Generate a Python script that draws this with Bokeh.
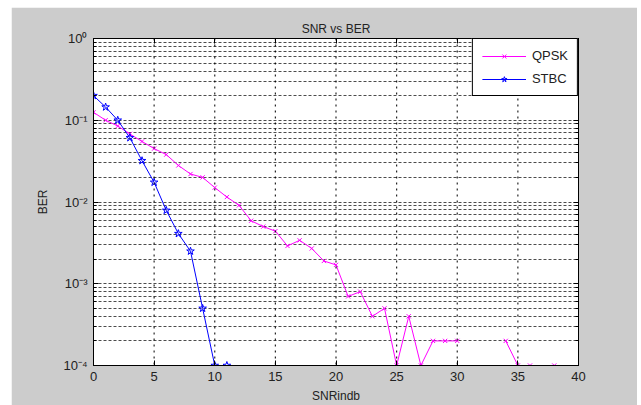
import math
from bokeh.plotting import figure
from bokeh.models import (FixedTicker, CustomJSTickFormatter, LinearAxis, LogAxis,
                          Range1d, Legend, LegendItem, Grid, Span)
from bokeh.embed import file_html
from bokeh.resources import INLINE

nan = float("nan")

snr_db = list(range(0, 41))
ber_qpsk = [0.125, 0.10, 0.085, 0.068, 0.055, 0.045, 0.038, 0.028, 0.022, 0.020,
            0.015, 0.0115, 0.0091, 0.0059, 0.0050, 0.0044, 0.0029, 0.0034, 0.0027, 0.0019,
            0.0017, 0.0007, 0.0008, 0.0004, 0.0005, 0.0001, 0.0004, 0.0001, 0.0002, 0.0002,
            0.0002, nan, nan, nan, 0.0002, 0.0001, 0.0001, nan, 0.0001, nan, nan]
ber_stbc = [0.20, 0.145, 0.10, 0.061, 0.032, 0.0174, 0.0079, 0.0041, 0.0025, 0.0005,
            0.0001, 0.0001] + [nan] * 29

x_ticks = [0, 5, 10, 15, 20, 25, 30, 35, 40]
y_decades = [-4, -3, -2, -1, 0]

FONT = "Liberation Sans"
GREY = "#cccccc"

p = figure(width=626, height=398, y_axis_type="log",
           x_range=Range1d(0, 40), y_range=Range1d(1e-4, 1),
           output_backend="svg", toolbar_location=None,
           title="SNR vs BER",
           min_border_left=82, min_border_right=59,
           min_border_top=31, min_border_bottom=40)
p.margin = (7, 4, 0, 11)
p.background_fill_color = "white"
p.border_fill_color = GREY
p.outline_line_color = "black"
p.outline_line_width = 1

p.title.align = "center"
p.title.text_font = FONT
p.title.text_font_size = "12px"
p.title.text_font_style = "normal"
p.title.text_color = "#222222"
p.title.standoff = 6

major_y = [10.0 ** e for e in y_decades]
minor_y = [m * 10.0 ** e for e in y_decades[:-1] for m in range(2, 10)]
yticker = FixedTicker(ticks=major_y, minor_ticks=minor_y)
xticker = FixedTicker(ticks=x_ticks)

sup_fmt = CustomJSTickFormatter(code="""
const sup = {"-":"\u207b","0":"\u2070","1":"\u00b9","2":"\u00b2","3":"\u00b3","4":"\u2074","5":"\u2075"};
const e = Math.round(Math.log10(tick));
return "10" + String(e).split("").map(c => sup[c]).join("");
""")
blank_fmt = CustomJSTickFormatter(code='return "";')

for ax in p.xaxis:
    ax.ticker = xticker
    ax.axis_label = "SNRindb"
for ax in p.yaxis:
    ax.ticker = yticker
    ax.formatter = sup_fmt
    ax.axis_label = "BER"
    ax.axis_label_standoff = 10

for ax in list(p.xaxis) + list(p.yaxis):
    ax.major_label_text_font = FONT
    ax.major_label_text_font_size = "13px"
    ax.major_label_text_color = "#222222"
    ax.axis_label_text_font = FONT
    ax.axis_label_text_font_size = "12px"
    ax.axis_label_text_font_style = "normal"
    ax.axis_label_text_color = "#222222"
    ax.axis_line_color = "black"
    ax.major_tick_in = 5
    ax.major_tick_out = 0
    ax.minor_tick_in = 3
    ax.minor_tick_out = 0
    ax.major_tick_line_color = "black"
    ax.minor_tick_line_color = "black"
    ax.major_label_standoff = 6

top_ax = LinearAxis(ticker=xticker, formatter=blank_fmt,
                    major_tick_in=5, major_tick_out=0, minor_tick_in=0, minor_tick_out=0,
                    axis_line_color="black", major_label_standoff=0)
right_ax = LogAxis(ticker=yticker, formatter=blank_fmt,
                   major_tick_in=5, major_tick_out=0, minor_tick_in=3, minor_tick_out=0,
                   axis_line_color="black", major_label_standoff=0)
p.add_layout(top_ax, "above")
p.add_layout(right_ax, "right")

for g in p.xgrid:
    g.visible = False
for g in p.ygrid:
    g.visible = False

hgrid = Grid(dimension=1, ticker=yticker, grid_line_color="black", grid_line_alpha=0.7,
             grid_line_dash="3 2", grid_line_width=1,
             minor_grid_line_color="black", minor_grid_line_alpha=0.7,
             minor_grid_line_dash="3 2")
p.add_layout(hgrid, "center")

# vertical grid lines at the x ticks (dotted, MATLAB style)
for xt in x_ticks[1:-1]:
    p.add_layout(Span(location=xt, dimension="height", line_color="black",
                      line_alpha=0.85, line_dash="dotted", line_width=1.2))

MAG = "#ff00ff"
BLU = "#0000ff"

l1 = p.line(snr_db, ber_qpsk, line_color=MAG, line_width=1)
s1 = p.scatter(snr_db, ber_qpsk, marker="x", size=6, line_color=MAG, fill_alpha=0)
l2 = p.line(snr_db, ber_stbc, line_color=BLU, line_width=1)
s2 = p.scatter(snr_db, ber_stbc, marker="star", size=8, line_color=BLU, fill_alpha=0)

legend = Legend(items=[LegendItem(label="QPSK", renderers=[l1, s1]),
                       LegendItem(label="STBC", renderers=[l2, s2])],
                location="top_right")
legend.margin = 0
legend.padding = 9
legend.spacing = 8
legend.glyph_width = 44
legend.glyph_height = 14
legend.label_standoff = 6
legend.label_text_font = FONT
legend.label_text_font_size = "13px"
legend.label_text_color = "#222222"
legend.border_line_color = "black"
legend.border_line_alpha = 1
legend.background_fill_color = "white"
legend.background_fill_alpha = 1
p.add_layout(legend)

open("out.html", "w").write(file_html(p, INLINE))
